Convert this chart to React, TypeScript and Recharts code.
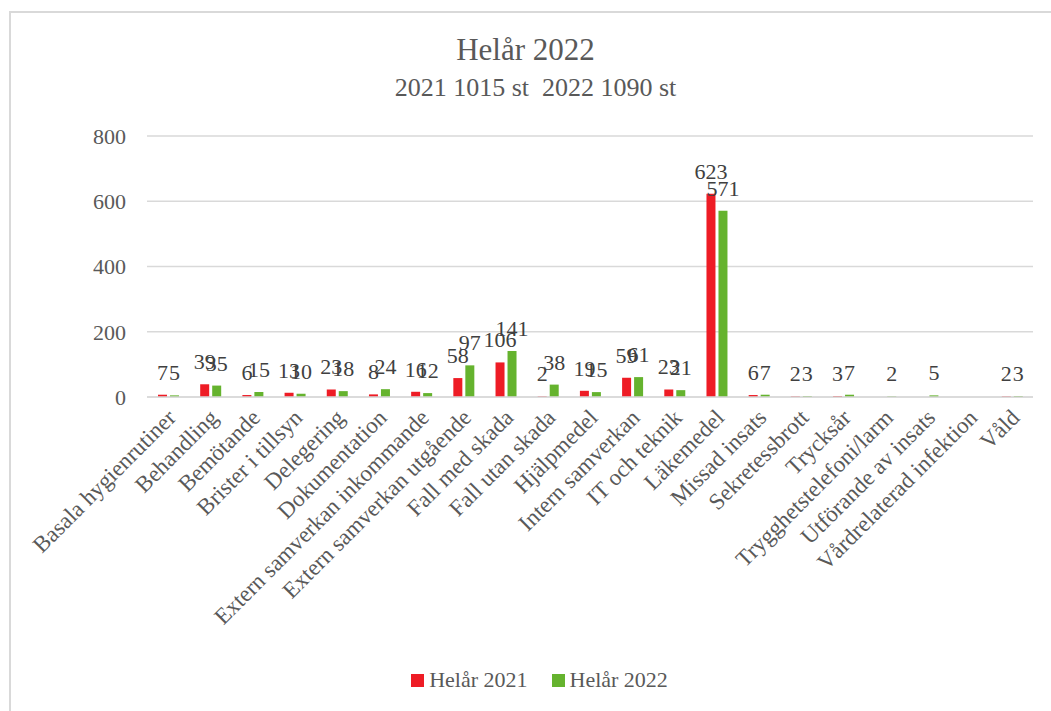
import React from 'react';
import { BarChart, Bar, XAxis, YAxis, CartesianGrid, Legend, LabelList } from 'recharts';

const categories = [
  'Basala hygienrutiner', 'Behandling', 'Bemötande', 'Brister i tillsyn', 'Delegering',
  'Dokumentation', 'Extern samverkan inkommande', 'Extern samverkan utgående', 'Fall med skada',
  'Fall utan skada', 'Hjälpmedel', 'Intern samverkan', 'IT och teknik', 'Läkemedel',
  'Missad insats', 'Sekretessbrott', 'Trycksår', 'Trygghetstelefoni/larm',
  'Utförande av insats', 'Vårdrelaterad infektion', 'Våld',
];
const values2021: (number | null)[] = [7, 39, 6, 13, 23, 8, 16, 58, 106, 2, 19, 59, 23, 623, 6, 2, 3, null, null, null, 2];
const values2022: (number | null)[] = [5, 35, 15, 10, 18, 24, 12, 97, 141, 38, 15, 61, 21, 571, 7, 3, 7, 2, 5, null, 3];
const yTicks = [0, 200, 400, 600, 800];
const seriesNames = ['Helår 2021', 'Helår 2022'];
const title = 'Helår 2022';
const subtitle = '2021 1015 st  2022 1090 st';

const RED = '#EE1C25';
const GREEN = '#65B32E';
const TEXT = '#595959';
const FONT = '"Liberation Serif", "Times New Roman", serif';

const data = categories.map((c, i) => ({ name: c, a: values2021[i], b: values2022[i] }));

const XTick = (props: any) => {
  const { x, y, payload } = props;
  return (
    <g transform={`translate(${x + 9},${y + 14})`}>
      <text transform="rotate(-45)" textAnchor="end" fill={TEXT} fontSize={23} fontFamily={FONT}>
        {payload.value}
      </text>
    </g>
  );
};

const LegendContent = () => (
  <div style={{ display: 'flex', justifyContent: 'center', fontFamily: FONT, fontSize: 22, color: TEXT, lineHeight: '26px', paddingLeft: 46 }}>
    {[RED, GREEN].map((c, i) => (
      <div key={i} style={{ display: 'flex', alignItems: 'center', margin: '0 12px' }}>
        <span style={{ width: 13, height: 13, background: c, display: 'inline-block', marginRight: 5 }} />
        <span>{seriesNames[i]}</span>
      </div>
    ))}
  </div>
);

export default function App() {
  return (
    <div style={{ position: 'absolute', left: 0, top: 0, width: 1051, height: 711, background: '#fff', overflow: 'hidden' }}>
      <div style={{ position: 'absolute', left: 9, top: 11, width: 1100, height: 800, borderLeft: '2px solid #d9d9d9', borderTop: '2px solid #d9d9d9' }} />
      <div style={{ position: 'absolute', left: 0, top: 32, width: 1051, textAlign: 'center', fontFamily: FONT, fontSize: 31, color: TEXT }}>{title}</div>
      <div style={{ position: 'absolute', left: 10, top: 73, width: 1051, textAlign: 'center', fontFamily: FONT, fontSize: 26, color: TEXT, whiteSpace: 'pre' }}>{subtitle}</div>
      <div style={{ position: 'absolute', left: 0, top: 0 }}>
        <BarChart width={1051} height={711} data={data} margin={{ top: 136, right: 18, bottom: 18, left: 0 }} barSize={9} barGap={3}>
          <CartesianGrid vertical={false} stroke="#d9d9d9" strokeWidth={1.5} />
          <XAxis dataKey="name" interval={0} height={270} tick={<XTick />} tickLine={false} axisLine={{ stroke: '#d9d9d9', strokeWidth: 1.5 }} />
          <YAxis width={147} domain={[0, 800]} ticks={yTicks} tickLine={false} axisLine={false} tickMargin={15}
            tick={{ fill: TEXT, fontSize: 22, fontFamily: FONT }} />
          <Legend verticalAlign="bottom" content={<LegendContent />} />
          <Bar dataKey="a" name={seriesNames[0]} fill={RED} isAnimationActive={false}>
            <LabelList dataKey="a" position="top" offset={15} fill="#404040" fontSize={22} fontFamily={FONT} />
          </Bar>
          <Bar dataKey="b" name={seriesNames[1]} fill={GREEN} isAnimationActive={false}>
            <LabelList dataKey="b" position="top" offset={15} fill="#404040" fontSize={22} fontFamily={FONT} />
          </Bar>
        </BarChart>
      </div>
    </div>
  );
}
